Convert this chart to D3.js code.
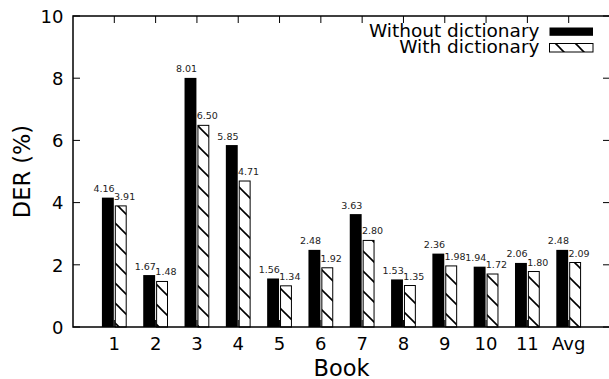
<!DOCTYPE html>
<html>
<head>
<meta charset="utf-8">
<script src="https://cdn.jsdelivr.net/npm/d3@7"></script>
<style>
  html, body { margin: 0; padding: 0; background: #fff; }
  svg { display: block; font-family: "DejaVu Sans", sans-serif; }
</style>
</head>
<body>
<svg id="chart" width="609" height="379"></svg>
<script>
// Book-level DER results
const categories = ["1", "2", "3", "4", "5", "6", "7", "8", "9", "10", "11", "Avg"];
const withoutDict = [4.16, 1.67, 8.01, 5.85, 1.56, 2.48, 3.63, 1.53, 2.36, 1.94, 2.06, 2.48];
const withDict = [3.91, 1.48, 6.50, 4.71, 1.34, 1.92, 2.80, 1.35, 1.98, 1.72, 1.80, 2.09];
const yTicks = [0, 2, 4, 6, 8, 10];
const seriesNames = ["Without dictionary", "With dictionary"];

const svg = d3.select("#chart");
const plotL = 73, plotR = 610, plotT = 16, plotB = 327;

// category index -> x position, one unit per book
const x = d3.scaleLinear().domain([-1, categories.length]).range([plotL, plotR]);
const y = d3.scaleLinear().domain([0, 10]).range([plotB, plotT]);
const unit = x(1) - x(0);
const barW = 0.3 * unit;

// diagonal hatch used for the "with dictionary" bars
const defs = svg.append("defs");
const pat = defs.append("pattern")
  .attr("id", "hatch")
  .attr("patternUnits", "userSpaceOnUse")
  .attr("width", 20).attr("height", 20)
  .attr("patternTransform", "translate(0,8)");
pat.append("rect").attr("width", 20).attr("height", 20).attr("fill", "#fff");
pat.append("line").attr("x1", -2).attr("y1", -2).attr("x2", 22).attr("y2", 22)
  .attr("stroke", "#000").attr("stroke-width", 1.6);
pat.append("line").attr("x1", -2).attr("y1", 18).attr("x2", 2).attr("y2", 22)
  .attr("stroke", "#000").attr("stroke-width", 1.6);
pat.append("line").attr("x1", 18).attr("y1", -2).attr("x2", 22).attr("y2", 2)
  .attr("stroke", "#000").attr("stroke-width", 1.6);

// bars
const idx = d3.range(categories.length);
svg.append("g").selectAll("rect").data(idx).join("rect")
  .attr("x", i => x(i) - barW)
  .attr("y", i => y(withoutDict[i]))
  .attr("width", barW - 0.5)
  .attr("height", i => y(0) - y(withoutDict[i]))
  .attr("fill", "#000");

svg.append("g").selectAll("rect").data(idx).join("rect")
  .attr("x", i => x(i) + 1)
  .attr("y", i => y(withDict[i]) + 0.5)
  .attr("width", barW - 1.5)
  .attr("height", i => y(0) - y(withDict[i]) - 0.5)
  .attr("fill", "url(#hatch)")
  .attr("stroke", "#000")
  .attr("stroke-width", 1);

// value labels
const lab = svg.append("g").attr("font-size", 9.5).attr("fill", "#222").attr("text-anchor", "middle");
lab.selectAll("text.a").data(idx).join("text").attr("class", "a")
  .attr("x", i => x(i - 0.25))
  .attr("y", i => y(withoutDict[i]) - 5.5)
  .text(i => withoutDict[i].toFixed(2));
lab.selectAll("text.b").data(idx).join("text").attr("class", "b")
  .attr("x", i => x(i + 0.25))
  .attr("y", i => y(withDict[i]) - 5.5)
  .text(i => withDict[i].toFixed(2));

// frame
svg.append("rect")
  .attr("x", plotL).attr("y", plotT)
  .attr("width", plotR - plotL).attr("height", plotB - plotT)
  .attr("fill", "none").attr("stroke", "#000").attr("stroke-width", 1.5);

// ticks (inward, mirrored)
const tk = svg.append("g").attr("stroke", "#000").attr("stroke-width", 1);
yTicks.forEach(v => {
  tk.append("line").attr("x1", plotL).attr("x2", plotL + 7).attr("y1", y(v)).attr("y2", y(v));
  tk.append("line").attr("x1", plotR - 7).attr("x2", plotR).attr("y1", y(v)).attr("y2", y(v));
});
idx.forEach(i => {
  tk.append("line").attr("x1", x(i)).attr("x2", x(i)).attr("y1", plotT).attr("y2", plotT + 7);
  tk.append("line").attr("x1", x(i)).attr("x2", x(i)).attr("y1", plotB).attr("y2", plotB - 7);
});

// tick labels
svg.append("g").attr("font-size", 18).attr("text-anchor", "end")
  .selectAll("text").data(yTicks).join("text")
  .attr("x", 63.5).attr("y", v => y(v) + 6.7)
  .text(v => v);
svg.append("g").attr("font-size", 18).attr("text-anchor", "middle")
  .selectAll("text").data(idx).join("text")
  .attr("x", i => x(i)).attr("y", 349.5)
  .text(i => categories[i]);

// axis titles
svg.append("text").attr("x", (plotL + plotR) / 2).attr("y", 376)
  .attr("text-anchor", "middle").attr("font-size", 22.5).text("Book");
svg.append("text")
  .attr("transform", `translate(29.5,${(plotT + plotB) / 2}) rotate(-90)`)
  .attr("text-anchor", "middle").attr("font-size", 22.5).text("DER (%)");

// legend
const lg = svg.append("g");
lg.append("text").attr("x", 539.5).attr("y", 36.7).attr("text-anchor", "end")
  .attr("font-size", 18.5).text(seriesNames[0]);
lg.append("text").attr("x", 539.5).attr("y", 53.2).attr("text-anchor", "end")
  .attr("font-size", 18.5).text(seriesNames[1]);
lg.append("rect").attr("x", 549.5).attr("y", 27.5).attr("width", 43.5).attr("height", 8.3)
  .attr("fill", "#000");
lg.append("rect").attr("x", 549.5).attr("y", 43.5).attr("width", 43.5).attr("height", 8.5)
  .attr("fill", "url(#hatch)").attr("stroke", "#000").attr("stroke-width", 1);
</script>
</body>
</html>
